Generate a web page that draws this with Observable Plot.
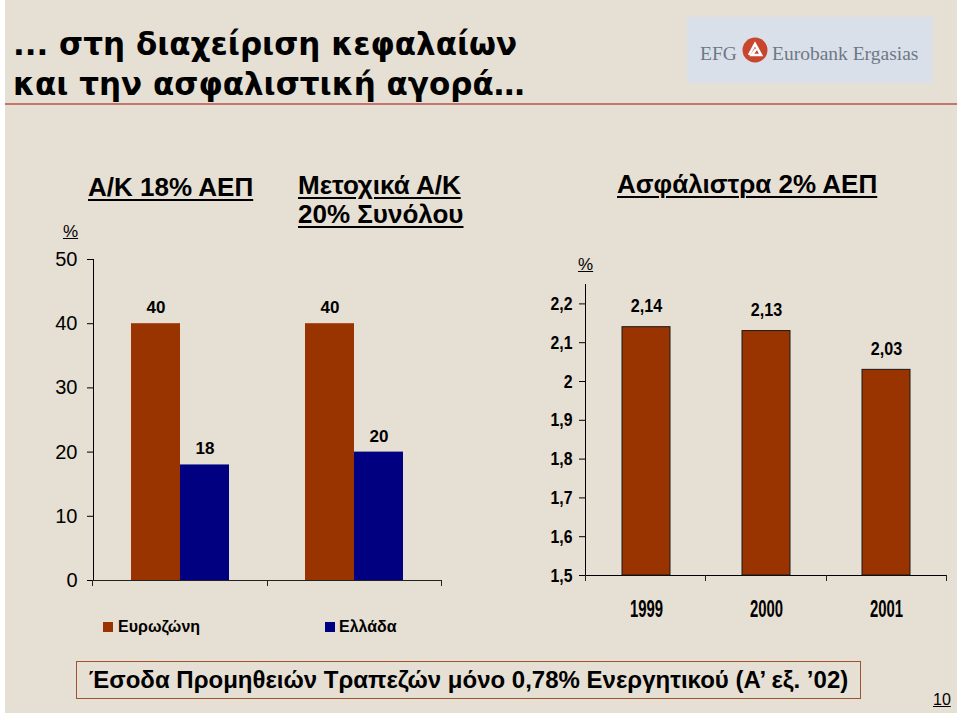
<!DOCTYPE html>
<html>
<head>
<meta charset="utf-8">
<script src="https://cdn.jsdelivr.net/npm/d3@7"></script>
<script src="https://cdn.jsdelivr.net/npm/@observablehq/plot@0.6"></script>
<style>
html,body{margin:0;padding:0;background:#fff;}
#page{position:relative;width:960px;height:716px;overflow:hidden;font-family:"Liberation Sans",Arial,sans-serif;color:#000;}
#slide{position:absolute;left:5px;top:0;width:952px;height:713px;background:#e6dfd3;}
.abs{position:absolute;white-space:nowrap;}
#title{left:13px;top:24px;font-family:"DejaVu Sans",Verdana,sans-serif;font-size:31px;line-height:40px;font-weight:bold;}
#rule{left:5px;top:103px;width:952px;height:2px;background:#c4766c;}
.head{font-size:26px;line-height:29px;font-weight:bold;text-decoration:underline;text-decoration-thickness:2px;text-underline-offset:3px;}
.pct{font-size:17px;line-height:20px;text-decoration:underline;}
.leg{font-size:16px;line-height:20px;font-weight:bold;}
.sw{width:10px;height:10px;}
#footer{left:76px;top:661px;width:783px;height:36px;border:1.5px solid #a0522d;font-size:24px;line-height:36px;text-align:center;font-weight:bold;}
#pnum{left:933px;top:690px;font-size:16px;line-height:20px;text-decoration:underline;}
#logo{left:687px;top:17px;width:246px;height:66px;background:#d9e0ea;}
.logotxt{font-family:"Liberation Serif","DejaVu Serif",serif;color:#6e7885;font-size:19.5px;line-height:20px;}
.plot{position:absolute;}
</style>
</head>
<body>
<div id="page">
  <div id="slide"></div>
  <div class="abs" id="title">... στη διαχείριση κεφαλαίων<br>και την ασφαλιστική αγορά…</div>
  <div class="abs" id="rule"></div>
  <div class="abs" id="logo">
    <div class="abs logotxt" style="left:13px;top:27px;">EFG</div>
    <svg class="abs" style="left:54px;top:19px;" width="28" height="28" viewBox="0 0 28 28">
      <circle cx="14" cy="14" r="12.5" fill="#c8462e"/>
      <path d="M8 19 L14 8 L20 19 L11 19 L15 13" fill="none" stroke="#fff" stroke-width="2.6" stroke-linejoin="miter"/>
    </svg>
    <div class="abs logotxt" style="left:85px;top:27px;">Eurobank Ergasias</div>
  </div>
  <div class="abs head" style="left:88px;top:173px;">Α/Κ 18% ΑΕΠ</div>
  <div class="abs head" style="left:298px;top:171px;">Μετοχικά Α/Κ</div>
  <div class="abs head" style="left:298px;top:200px;">20% Συνόλου</div>
  <div class="abs head" style="left:617px;top:170px;">Ασφάλιστρα 2% ΑΕΠ</div>
  <div class="abs pct" style="left:63px;top:222px;">%</div>
  <div class="abs pct" style="left:578px;top:255px;">%</div>
  <div id="leftPlot" class="plot" style="left:0px;top:240px;"></div>
  <div id="rightPlot" class="plot" style="left:520px;top:270px;"></div>
  <div class="abs sw" id="sw0" style="left:103px;top:622px;"></div>
  <div class="abs leg" id="lg0" style="left:118px;top:617px;"></div>
  <div class="abs sw" id="sw1" style="left:325px;top:622px;"></div>
  <div class="abs leg" id="lg1" style="left:339px;top:617px;"></div>
  <div class="abs" id="footer">Έσοδα Προμηθειών Τραπεζών μόνο 0,78% Ενεργητικού (Α’ εξ. ’02)</div>
  <div class="abs" id="pnum">10</div>
</div>
<script>
// ---- data ----
const groups = ["Α/Κ % ΑΕΠ", "Μετοχικά Α/Κ % Συνόλου"];
const series = ["Ευρωζώνη", "Ελλάδα"];
const euroValues = [40, 40];
const greeceValues = [18, 20];
const leftTicks = [0, 10, 20, 30, 40, 50];
const leftDomain = [0, 50];
const years = ["1999", "2000", "2001"];
const premiums = [2.14, 2.13, 2.03];
const rightTicks = [1.5, 1.6, 1.7, 1.8, 1.9, 2.0, 2.1, 2.2];
const rightDomain = [1.5, 2.25];
const colors = ["#993300", "#000080"];

const gr = d3.formatLocale({decimal: ",", thousands: ".", grouping: [3], currency: ["", "€"]});
const fmtTick = gr.format(".2~f");
const fmt2 = gr.format(".2f");
const fmt0 = gr.format("d");

const leftData = groups.flatMap((g, i) => [
  {group: g, series: series[0], value: euroValues[i]},
  {group: g, series: series[1], value: greeceValues[i]}
]);
const rightData = years.map((y, i) => ({year: y, value: premiums[i]}));

const axisColor = "#222";

function boundaryTicks(plot, scaleName, yValue, n) {
  const s = plot.scale(scaleName);
  const y = plot.scale("y").apply(yValue);
  const [r0, r1] = s.range;
  const g = d3.select(plot).append("g").attr("stroke", axisColor).attr("stroke-width", 1);
  for (let i = 0; i <= n; i++) {
    const x = Math.round(r0 + i * (r1 - r0) / n) + 0.5;
    g.append("line").attr("x1", x).attr("x2", x).attr("y1", y).attr("y2", y + 6);
  }
}

// condense text horizontally (the reference uses a narrow face)
function condense(sel, k) {
  sel.each(function() {
    const w = this.getComputedTextLength();
    if (w > 0) {
      this.setAttribute("textLength", (w * k).toFixed(1));
      this.setAttribute("lengthAdjust", "spacingAndGlyphs");
    }
  });
}

// ---- left chart ----
const left = Plot.plot({
  width: 450, height: 380,
  marginLeft: 92, marginRight: 9, marginTop: 19, marginBottom: 40,
  style: {background: "transparent", fontFamily: "'Liberation Sans', Arial, sans-serif", fontSize: "20px", color: "#000", overflow: "visible"},
  facet: {data: leftData, x: "group"},
  fx: {domain: groups, padding: 0, axis: null},
  x: {domain: series, paddingInner: 0, paddingOuter: 0.75, axis: null},
  y: {domain: leftDomain, ticks: leftTicks, tickSize: 6, tickPadding: 10, line: true, label: null, tickFormat: fmt0},
  color: {domain: series, range: colors},
  marks: [
    Plot.barY(leftData, {x: "series", y: "value", fill: "series"}),
    Plot.ruleY([0], {stroke: axisColor}),
    Plot.text(leftData, {x: "series", y: "value", text: d => fmt0(d.value), dy: -16, fontSize: 17, fontWeight: "bold", fill: "#000"})
  ]
});
document.getElementById("leftPlot").appendChild(left);
boundaryTicks(left, "fx", 0, groups.length);

// legend (HTML, colours from arrays)
series.forEach((s, i) => {
  document.getElementById("sw" + i).style.background = colors[i];
  document.getElementById("lg" + i).textContent = s;
});

// ---- right chart ----
const rfont = "'Liberation Sans', Arial, sans-serif";
const right = Plot.plot({
  width: 440, height: 360,
  marginLeft: 65, marginRight: 14, marginTop: 14, marginBottom: 55,
  style: {background: "transparent", fontFamily: rfont, fontWeight: "bold", fontSize: "19px", color: "#000", overflow: "visible"},
  x: {domain: years, paddingInner: 0.6, paddingOuter: 0.3, tickSize: 0, tickPadding: 24, line: true, label: null},
  y: {domain: rightDomain, ticks: rightTicks, tickSize: 6, tickPadding: 7, line: true, label: null, tickFormat: fmtTick},
  marks: [
    Plot.barY(rightData, {x: "year", y1: rightDomain[0], y2: "value", fill: colors[0], stroke: "#1a1a1a", strokeWidth: 1}),
    Plot.text(rightData, {x: "year", y: "value", text: d => fmt2(d.value), dy: -21, fontSize: 19, fontWeight: "bold", fontFamily: rfont, fill: "#000"})
  ]
});
document.getElementById("rightPlot").appendChild(right);
const rsel = d3.select(right);
rsel.selectAll('g[aria-label^="x-axis"] text').style("font-size", "24px");
condense(rsel.selectAll('g[aria-label^="x-axis"] text'), 0.62);
condense(rsel.selectAll('g[aria-label^="y-axis"] text'), 0.83);
condense(rsel.selectAll('g[aria-label="text"] text'), 0.85);
boundaryTicks(right, "x", rightDomain[0], years.length);
</script>
</body>
</html>
